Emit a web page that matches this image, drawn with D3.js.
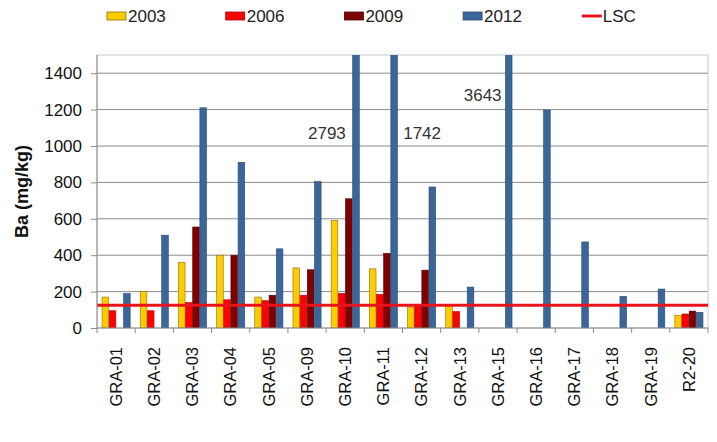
<!DOCTYPE html>
<html><head><meta charset="utf-8">
<script src="https://cdn.jsdelivr.net/npm/d3@7"></script>
<style>body{margin:0;background:#fff}svg{display:block}text{font-family:"Liberation Sans",Arial,sans-serif}</style>
</head><body>
<script>
const categories = ["GRA-01","GRA-02","GRA-03","GRA-04","GRA-05","GRA-09","GRA-10","GRA-11","GRA-12","GRA-13","GRA-15","GRA-16","GRA-17","GRA-18","GRA-19","R2-20"];
const seriesNames = ["2003","2006","2009","2012"];
const v2003 = [170,200,360,400,170,330,590,325,115,125,null,null,null,null,null,70];
const v2006 = [95,95,140,155,150,180,190,185,125,90,null,null,null,null,null,77];
const v2009 = [null,null,555,400,180,320,710,410,318,null,null,null,null,null,null,93];
const v2012 = [190,510,1210,910,435,805,2793,1742,775,225,3643,1198,473,174,214,86];
const lscValue = 125;
const yTicks = [0,200,400,600,800,1000,1200,1400];
const offScale = [{cat:"GRA-10", label:"2793", y:1040, dx:-4},{cat:"GRA-11", label:"1742", y:1040, dx:53},{cat:"GRA-15", label:"3643", y:1245, dx:-1}];

const colors = {"2003":"#FFCC00","2006":"#FF0000","2009":"#800000","2012":"#3A6699"};
const strokes = {"2003":"#8a7000","2006":"#b00000","2009":"#500000","2012":"#2a4d75"};
const values = {"2003":v2003,"2006":v2006,"2009":v2009,"2012":v2012};

const W=717,H=442, L=97, R=708, T=55, B=328;
const svg = d3.select("body").append("svg").attr("width",W).attr("height",H);

const x0 = d3.scaleBand().domain(categories).range([L,R]).paddingInner(0.25).paddingOuter(0.125);
const x1 = d3.scaleBand().domain(seriesNames).range([0,x0.bandwidth()]);
const y = d3.scaleLinear().domain([0,1500]).range([B,T]);

svg.append("g").selectAll("line").data(yTicks.filter(d=>d>0)).join("line")
  .attr("x1",L).attr("x2",R).attr("y1",d=>y(d)).attr("y2",d=>y(d))
  .attr("stroke","#8a8a8a").attr("stroke-width",1);
svg.append("rect").attr("x",L).attr("y",T).attr("width",R-L).attr("height",B-T)
  .attr("fill","none").attr("stroke","#c8c8c8").attr("stroke-width",1);

svg.append("defs").append("clipPath").attr("id","clip").append("rect")
  .attr("x",L).attr("y",T).attr("width",R-L).attr("height",B-T);

const bars = [];
categories.forEach((c,i)=>seriesNames.forEach(s=>{ if(values[s][i]!=null) bars.push({c,s,v:values[s][i]}); }));
svg.append("g").attr("clip-path","url(#clip)").selectAll("rect").data(bars).join("rect")
  .attr("x",d=>x0(d.c)+x1(d.s)+0.25).attr("width",x1.bandwidth()-0.5)
  .attr("y",d=>y(d.v)).attr("height",d=>B-y(d.v))
  .attr("fill",d=>colors[d.s]).attr("stroke",d=>strokes[d.s]).attr("stroke-width",0.6);

svg.append("line").attr("x1",L).attr("x2",R).attr("y1",y(lscValue)).attr("y2",y(lscValue))
  .attr("stroke","#E8141C").attr("stroke-width",3.2);

const ya = svg.append("g").attr("transform",`translate(${L},0)`)
  .call(d3.axisLeft(y).tickValues(yTicks).tickFormat(d3.format("d")).tickSize(6).tickPadding(9));
ya.select(".domain").attr("stroke","#8a8a8a").attr("d",`M0,${T}V${B}`);
ya.selectAll(".tick line").attr("stroke","#8a8a8a");
ya.selectAll("text").attr("font-size",17).attr("fill","#111").attr("font-family",null);

const xa = svg.append("g").attr("transform",`translate(0,${B})`)
  .call(d3.axisBottom(x0).tickSize(0).tickPadding(0));
xa.select(".domain").attr("stroke","#8a8a8a").attr("d",`M${L},0H${R}`);
xa.selectAll(".tick text").attr("font-size",16.5).attr("fill","#111").attr("font-family",null)
  .attr("text-anchor","end").attr("dy","0.35em")
  .attr("transform","translate(0,19) rotate(-90)").attr("x",0).attr("y",0);
svg.append("g").selectAll("line").data(d3.range(categories.length+1)).join("line")
  .attr("x1",i=>L + i*x0.step()).attr("x2",i=>L + i*x0.step())
  .attr("y1",B).attr("y2",B+5).attr("stroke","#8a8a8a");

svg.append("text").attr("transform",`translate(28,${(T+B)/2}) rotate(-90)`)
  .attr("text-anchor","middle").attr("font-size",18).attr("font-weight","bold").attr("fill","#111")
  .text("Ba (mg/kg)");

svg.append("g").selectAll("text").data(offScale).join("text")
  .attr("x",d=>x0(d.cat)+d.dx).attr("y",d=>y(d.y)).attr("text-anchor","middle")
  .attr("font-size",17).attr("fill","#333").text(d=>d.label);

const legendItems = seriesNames.concat(["LSC"]);
const lg = svg.append("g").selectAll("g").data(legendItems).join("g")
  .attr("transform",(d,i)=>`translate(${107+i*118.7},0)`);
lg.filter(d=>d!=="LSC").append("rect").attr("x",0).attr("y",12).attr("width",19).attr("height",8)
  .attr("fill",d=>colors[d]).attr("stroke",d=>strokes[d]).attr("stroke-width",0.8);
lg.filter(d=>d==="LSC").append("line").attr("x1",0).attr("x2",20).attr("y1",16).attr("y2",16)
  .attr("stroke","#E8141C").attr("stroke-width",3);
lg.append("text").attr("x",21).attr("y",22).attr("font-size",17).attr("fill","#222").text(d=>d);
</script>
</body></html>
